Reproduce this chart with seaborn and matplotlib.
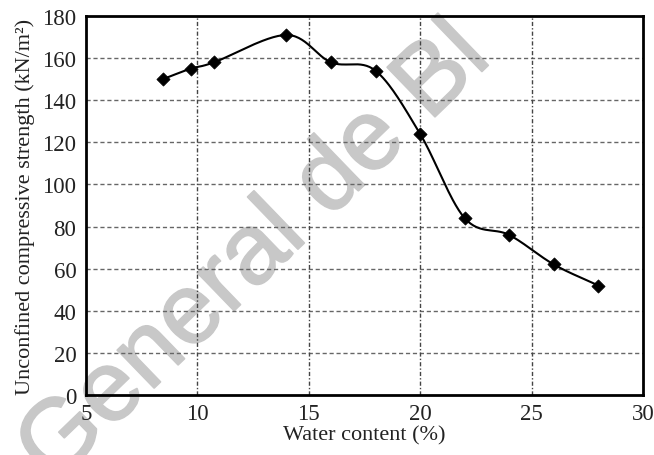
import numpy as np
import pandas as pd
import matplotlib
matplotlib.use("Agg")
import matplotlib.pyplot as plt
import matplotlib.patheffects as pe
import seaborn as sns

# Data
water_content = [8.45, 9.7, 10.75, 14.0, 16.0, 18.0, 20.0, 22.0, 24.0, 26.0, 28.0]
strength = [150, 155, 158, 171, 158, 154, 124, 84, 76, 62, 52]
x_ticks = [5, 10, 15, 20, 25, 30]
y_ticks = [0, 20, 40, 60, 80, 100, 120, 140, 160, 180]

sns.set_theme(style="white")
plt.rcParams["font.family"] = ["Liberation Serif", "DejaVu Serif"]


def smooth_curve(xs, ys, n=30):
    """Catmull-Rom spline through the data points (like a spreadsheet 'smoothed line')."""
    P = np.column_stack([xs, ys]).astype(float)
    P = np.vstack([P[0] - (P[1] - P[0]), P, P[-1] + (P[-1] - P[-2])])
    out = []
    for i in range(1, len(P) - 2):
        p0, p1, p2, p3 = P[i - 1], P[i], P[i + 1], P[i + 2]
        t = np.linspace(0, 1, n, endpoint=False)[:, None]
        seg = 0.5 * ((2 * p1) + (-p0 + p2) * t + (2 * p0 - 5 * p1 + 4 * p2 - p3) * t ** 2
                     + (-p0 + 3 * p1 - 3 * p2 + p3) * t ** 3)
        out.append(seg)
    out.append(P[-2][None, :])
    return np.vstack(out)


fig = plt.figure(figsize=(6.54, 4.56), dpi=100)
ax = fig.add_axes([0.1315, 0.1316, 0.8515, 0.8311])

curve = smooth_curve(water_content, strength)
curve_df = pd.DataFrame({"x": curve[:, 0], "y": curve[:, 1]})
pts_df = pd.DataFrame({"x": water_content, "y": strength})

sns.lineplot(data=curve_df, x="x", y="y", ax=ax, color="black", lw=1.5,
             sort=False, estimator=None, zorder=4)
sns.scatterplot(data=pts_df, x="x", y="y", ax=ax, marker="D", s=45,
                color="black", edgecolor="black", zorder=5)

ax.set_xlim(5, 30)
ax.set_ylim(0, 180)
ax.set_xticks(x_ticks)
ax.set_yticks(y_ticks)
ax.tick_params(axis="both", length=0, labelsize=16.5, colors="#222222")
ax.tick_params(axis="x", pad=6)
ax.tick_params(axis="y", pad=7)

for v in y_ticks[1:-1]:
    ax.axhline(v, color="#666666", lw=1.0, ls=(0, (3, 2)), zorder=1)
for v in x_ticks[1:-1]:
    ax.axvline(v, color="#444444", lw=1.0, ls=(0, (3, 1.5, 1, 1.5)), zorder=1)

for s in ax.spines.values():
    s.set_visible(True)
    s.set_color("black")
    s.set_linewidth(2.0)

ax.set_xlabel("Water content (%)", fontsize=16, color="#222222", labelpad=1)
ax.set_ylabel("Unconfined compressive strength (kN/m²)", fontsize=16,
              color="#222222", labelpad=5)

# Watermark
wm_color = "#c8c8c8"
ax.text(0.39, 0.44, "General de Bl", transform=fig.transFigure, rotation=44,
        fontsize=72, family=["Liberation Sans", "DejaVu Sans"],
        color=wm_color, ha="center", va="center", zorder=0.5, clip_on=False,
        path_effects=[pe.withStroke(linewidth=1.3, foreground=wm_color)])

fig.savefig("out.png", dpi=100)
